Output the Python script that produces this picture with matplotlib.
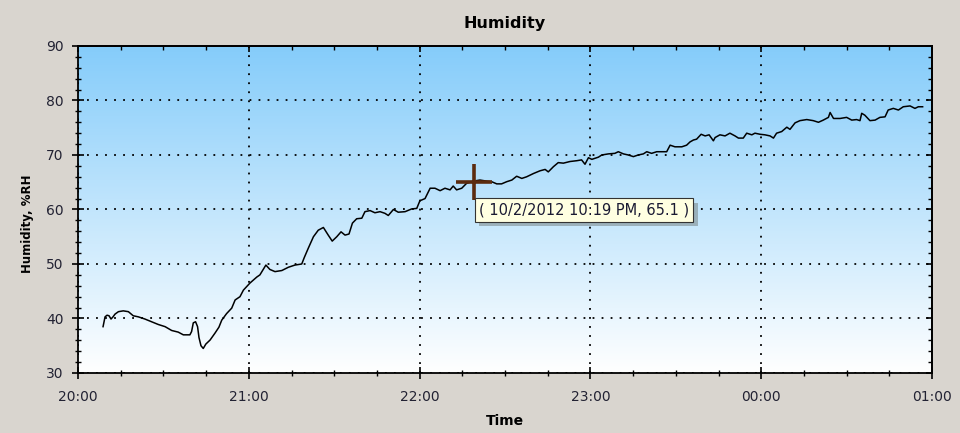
import numpy as np
import pandas as pd
import matplotlib
matplotlib.use("Agg")
import matplotlib.pyplot as plt
import matplotlib.dates as mdates
import matplotlib.patheffects as pe

# humidity readings, minutes after 20:00 on 10/2/2012
minutes = [8.8, 9.5, 10.2, 10.9, 11.6, 12.3, 13.0, 14.2, 15.9, 17.7, 19.4, 21.2, 23.5, 25.9,
           28.2, 30.6, 32.9, 35.2, 37.0, 39.3, 39.9, 40.5, 41.3, 42.0, 42.5, 43.2, 44.0, 44.9,
           46.4, 48.1, 49.5, 50.5, 52.2, 54.0, 55.2, 56.9, 58.1, 60.4, 62.8, 63.9, 66.0, 67.4,
           69.2, 71.6, 73.9, 76.2, 78.6, 79.5, 80.9, 82.7, 84.4, 86.2, 87.9, 89.3, 90.9, 92.4,
           93.8, 95.2, 96.4, 97.9, 99.7, 100.8, 102.6, 104.3, 106.1, 107.8, 109.0, 110.8, 112.5,
           114.9, 117.2, 119.0, 120.1, 121.9, 123.7, 125.4, 127.2, 128.9, 130.7, 131.8, 133.0,
           134.8, 136.5, 138.9, 141.2, 143.6, 145.3, 147.1, 148.8, 150.6, 152.4, 154.1, 155.9,
           157.6, 160.0, 162.3, 164.1, 165.2, 167.0, 168.7, 170.5, 172.8, 175.2, 176.9, 178.1,
           179.3, 180.5, 182.8, 184.0, 186.3, 188.6, 189.8, 191.6, 193.3, 195.1, 196.8, 198.6,
           199.8, 201.5, 203.3, 205.6, 206.8, 208.0, 209.7, 212.1, 213.8, 215.0, 216.2, 217.3,
           218.9, 220.3, 221.7, 223.2, 223.8, 225.5, 227.3, 229.0, 230.8, 232.0, 233.7, 234.9,
           236.7, 237.8, 239.6, 241.3, 243.1, 244.3, 245.4, 247.2, 249.0, 250.1, 251.9, 253.6,
           256.0, 258.3, 260.1, 261.8, 263.6, 264.2, 265.4, 267.7, 270.0, 271.8, 273.5, 274.7,
           275.3, 276.4, 278.2, 280.0, 281.7, 283.5, 284.6, 286.4, 288.2, 289.9, 292.3, 294.0,
           295.2, 296.7]
humidity = [38.5, 40.3, 40.6, 40.5, 39.9, 40.3, 40.8, 41.25, 41.4, 41.25, 40.5, 40.3, 39.9, 39.4,
            38.9, 38.5, 37.8, 37.5, 37.0, 37.0, 37.6, 39.2, 39.4, 38.5, 36.5, 35.0, 34.5, 35.3,
            36.05, 37.3, 38.4, 39.7, 40.9, 41.9, 43.4, 44.0, 45.2, 46.5, 47.6, 48.0, 49.8, 49.0,
            48.6, 48.8, 49.4, 49.8, 50.0, 51.2, 52.9, 55.0, 56.2, 56.7, 55.3, 54.2, 55.0, 55.9,
            55.3, 55.5, 57.5, 58.3, 58.4, 59.6, 59.8, 59.4, 59.6, 59.3, 58.9, 60.0, 59.5,
            59.6, 60.1, 60.2, 61.6, 62.0, 63.9, 63.9, 63.45, 63.9, 63.6, 64.3, 63.6,
            63.9, 64.8, 65.2, 65.4, 65.2, 65.1, 64.7, 64.7, 65.1, 65.4, 66.1, 65.7,
            66.0, 66.6, 67.1, 67.35, 66.9, 67.85, 68.6, 68.5, 68.8, 68.95, 69.1, 68.3,
            69.5, 69.2, 69.6, 70.0, 70.2, 70.3, 70.6, 70.2, 70.0, 69.7, 70.0, 70.2,
            70.6, 70.3, 70.6, 70.6, 70.6, 71.8, 71.5, 71.5, 71.8, 72.4, 72.75, 72.9,
            73.8, 73.5, 73.7, 72.6, 73.2, 73.7, 73.5, 74.0, 73.5, 73.1, 73.1, 74.0,
            73.7, 74.0, 73.8, 73.7, 73.5, 73.1, 74.0, 74.3, 75.1, 74.7, 75.9, 76.3,
            76.5, 76.3, 76.0, 76.4, 76.9, 77.8, 76.7, 76.7, 76.9, 76.4, 76.5, 76.3,
            77.65, 77.3, 76.3, 76.4, 76.9, 77.0, 78.25, 78.55, 78.25, 78.85, 79.0, 78.55,
            78.85, 78.85]

start = pd.Timestamp("2012-10-02 20:00")
end = pd.Timestamp("2012-10-03 01:00")
times = start + pd.to_timedelta(minutes, unit="m")

# the point picked by the cursor
cursor_time = pd.Timestamp("2012-10-02 22:19")
cursor_value = 65.1

fig = plt.figure(figsize=(9.6, 4.33), dpi=100, facecolor="#d9d5cf")
ax = fig.add_axes([0.08125, 0.1386, 0.8896, 0.7552])

x0, x1 = mdates.date2num(start), mdates.date2num(end)
ax.set_xlim(x0, x1)
ax.set_ylim(30, 90)

# background gradient, light blue at top to white at bottom
top = np.array([0.52, 0.80, 0.98])
bottom = np.array([1.0, 1.0, 1.0])
k = np.linspace(0, 1, 256)[:, None]
grad = (top * (1 - k) + bottom * k)[:, None, :]
ax.imshow(grad, extent=[x0, x1, 30, 90], aspect="auto", zorder=0)

ax.plot(times, humidity, color="black", lw=1.1, zorder=3)

ax.xaxis.set_major_locator(mdates.HourLocator())
ax.xaxis.set_minor_locator(mdates.MinuteLocator(byminute=[15, 30, 45]))
ax.xaxis.set_major_formatter(mdates.DateFormatter("%H:%M"))
ax.set_yticks(range(30, 91, 10))
ax.set_yticks(range(30, 91, 2), minor=True)

ax.grid(True, which="major", color="black", linestyle=(0, (1, 4)), lw=1.3, zorder=1)
ax.set_axisbelow(False)

for s in ax.spines.values():
    s.set_linewidth(1.3)
    s.set_zorder(4)

ax.tick_params(which="major", direction="inout", length=8.5, width=1.2,
               labelsize=10, labelcolor="#222233")
ax.tick_params(axis="x", which="major", pad=8)
ax.tick_params(axis="y", which="major", pad=6)
ax.tick_params(which="minor", direction="inout", length=4.5, width=1.0)

# top and right axes only carry inward ticks
top_ax = ax.secondary_xaxis("top")
top_ax.xaxis.set_major_locator(mdates.HourLocator())
top_ax.xaxis.set_minor_locator(mdates.MinuteLocator(byminute=[15, 30, 45]))
top_ax.tick_params(which="major", direction="in", length=4.5, width=1.2, labeltop=False)
top_ax.tick_params(which="minor", direction="in", length=3, width=1.0)
right_ax = ax.secondary_yaxis("right")
right_ax.set_yticks(range(30, 91, 10))
right_ax.set_yticks(range(30, 91, 2), minor=True)
right_ax.tick_params(which="major", direction="in", length=4.5, width=1.2, labelright=False)
right_ax.tick_params(which="minor", direction="in", length=3, width=1.0)
for a in (top_ax, right_ax):
    for s in a.spines.values():
        s.set_linewidth(1.3)

ax.set_title("Humidity", fontsize=11.5, fontweight="bold", pad=13)
ax.set_xlabel("Time", fontsize=10, fontweight="bold", labelpad=7)
ax.set_ylabel("Humidity, %RH", fontsize=8.5, fontweight="bold")
ax.yaxis.set_label_coords(-0.051, 0.455)

# crosshair cursor and its tooltip
ax.plot([cursor_time], [cursor_value], marker="+", ms=26, mew=2.6,
        color="#5b2b0f", zorder=5)
tip = ax.annotate("( 10/2/2012 10:19 PM, 65.1 )", xy=(cursor_time, cursor_value),
                  xytext=(4, -15), textcoords="offset points", ha="left", va="top",
                  fontsize=10.5, color="#1a1a33", zorder=6,
                  bbox=dict(boxstyle="square,pad=0.28", fc="#ffffe1", ec="#333333", lw=0.8))
tip.get_bbox_patch().set_path_effects([pe.withSimplePatchShadow(offset=(3, -3), alpha=0.35)])

fig.savefig("out.png", dpi=100, facecolor=fig.get_facecolor())
